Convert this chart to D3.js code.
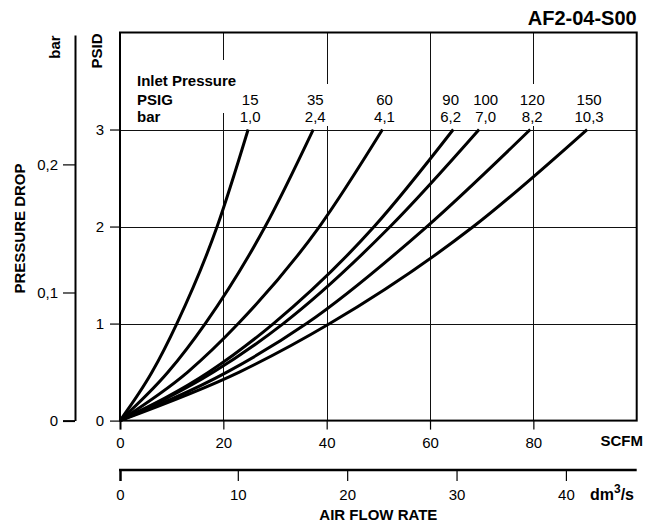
<!DOCTYPE html>
<html>
<head>
<meta charset="utf-8">
<script src="https://cdn.jsdelivr.net/npm/d3@7"></script>
<style>
  html, body { margin: 0; padding: 0; background: #fff; }
  svg { display: block; }
  text { font-family: "Liberation Sans", Arial, Helvetica, sans-serif; fill: #000; }
</style>
</head>
<body>
<svg id="chart" width="657" height="527"></svg>
<script>
// ---------- data ----------
const title = "AF2-04-S00";
const flowTicks = [0, 20, 40, 60, 80];          // SCFM
const psidTicks = [0, 1, 2, 3];                  // PSID
const barTicks = [0, 0.1, 0.2];                  // bar
const dmTicks = [0, 10, 20, 30, 40];             // dm3/s
const inletPsig = ["15", "35", "60", "90", "100", "120", "150"];
const inletBar = ["1,0", "2,4", "4,1", "6,2", "7,0", "8,2", "10,3"];
// pressure drop (PSID) levels at which flow was read
const psidLevels = [0, 0.5, 1, 2, 3];
// flow (SCFM) for each inlet pressure curve at those PSID levels
const flow15  = [0, 6.2, 11.0, 18.8, 24.8];
const flow35  = [0, 9.3, 16.5, 28.1, 37.4];
const flow60  = [0, 13.1, 22.9, 38.6, 50.8];
const flow90  = [0, 17.2, 29.7, 49.2, 64.5];
const flow100 = [0, 18.1, 31.6, 52.3, 69.5];
const flow120 = [0, 20.7, 36.1, 59.4, 79.4];
const flow150 = [0, 23.1, 40.6, 68.4, 90.4];
const curves = [flow15, flow35, flow60, flow90, flow100, flow120, flow150];
// SCFM equivalents used to calibrate the dm3/s axis as printed
const dmCalib = [0, 10, 40];
const dmCalibScfm = [0, 22.8, 86.3];

// ---------- setup ----------
const svg = d3.select("#chart");
const FONT = 15;
const x = d3.scaleLinear().domain([0, 100]).range([120, 636.7]);
const y = d3.scaleLinear().domain([0, 4]).range([420.6, 32.5]);
const yBar = d3.scaleLinear().domain([0, 0.301]).range([y(0), 35]);
const dm = d3.scaleLinear().domain(dmCalib).range(dmCalibScfm.map(x));

svg.append("rect").attr("width", 657).attr("height", 527).attr("fill", "#fff");

// ---------- grid ----------
const grid = svg.append("g").attr("stroke", "#111").attr("stroke-width", 1);
grid.selectAll("line.v").data(flowTicks.filter(d => d > 0)).join("line")
  .attr("x1", d => Math.round(x(d)) + 0.5).attr("x2", d => Math.round(x(d)) + 0.5)
  .attr("y1", y(4)).attr("y2", y(0));
grid.selectAll("line.h").data(psidTicks.filter(d => d > 0)).join("line")
  .attr("x1", x(0)).attr("x2", x(100))
  .attr("y1", d => Math.round(y(d)) + 0.5).attr("y2", d => Math.round(y(d)) + 0.5);

// ---------- legend block (text with white boxes behind) ----------
const legendG = svg.append("g");
const boxG = legendG.append("g");
const textG = legendG.append("g");
const lx = 137;
const rowY = [86, 105, 122];
const tInlet = textG.append("text").attr("x", lx).attr("y", rowY[0])
  .attr("font-size", FONT).attr("font-weight", "bold").text("Inlet Pressure");
const tPsig = textG.append("text").attr("x", lx).attr("y", rowY[1])
  .attr("font-size", FONT).attr("font-weight", "bold").text("PSIG");
textG.append("text").attr("x", lx).attr("y", rowY[2])
  .attr("font-size", FONT).attr("font-weight", "bold").text("bar");

const ends = curves.map(c => c[c.length - 1]);
const colG = textG.selectAll("g.col").data(inletPsig).join("g");
const colPsig = colG.append("text").attr("y", rowY[1])
  .attr("text-anchor", "middle").attr("font-size", FONT).text(d => d);
const colBar = colG.append("text").attr("y", rowY[2])
  .attr("text-anchor", "middle").attr("font-size", FONT).text((d, i) => inletBar[i]);

// place each column at its curve's end, pushing neighbours apart when crowded
{
  const widths = inletPsig.map((d, i) => {
    colPsig.filter((e, j) => j === i).attr("x", 0);
    colBar.filter((e, j) => j === i).attr("x", 0);
    return Math.max(colPsig.nodes()[i].getBBox().width, colBar.nodes()[i].getBBox().width);
  });
  const centers = ends.map(e => x(e) + 2);
  const gap = 12;
  for (let iter = 0; iter < 5; iter++) {
    for (let i = 1; i < centers.length; i++) {
      const ov = (centers[i - 1] + widths[i - 1] / 2 + gap) - (centers[i] - widths[i] / 2);
      if (ov > 0) { centers[i - 1] -= ov / 2; centers[i] += ov / 2; }
    }
  }
  colPsig.attr("x", (d, i) => centers[i]);
  colBar.attr("x", (d, i) => centers[i]);
}

// white boxes
{
  const b1 = tInlet.node().getBBox(), b2 = tPsig.node().getBBox();
  boxG.append("rect").attr("x", b1.x - 6).attr("y", b1.y - 12)
    .attr("width", b1.width + 12).attr("height", (b2.y + b2.height + 5) - (b1.y - 12))
    .attr("fill", "#fff");
  colG.each(function (d, i) {
    const a = colPsig.nodes()[i].getBBox(), b = colBar.nodes()[i].getBBox();
    const x0 = Math.min(a.x, b.x) - 6, x1 = Math.max(a.x + a.width, b.x + b.width) + 6;
    boxG.append("rect").attr("x", x0).attr("y", a.y - 7)
      .attr("width", x1 - x0).attr("height", (b.y + b.height + 1) - (a.y - 7))
      .attr("fill", "#fff");
  });
}

// ---------- frame ----------
svg.append("rect").attr("x", x(0)).attr("y", y(4))
  .attr("width", x(100) - x(0)).attr("height", y(0) - y(4))
  .attr("fill", "none").attr("stroke", "#000").attr("stroke-width", 2);

// ---------- curves ----------
const line = d3.line()
  .x(d => x(d[0])).y(d => y(d[1]))
  .curve(d3.curveMonotoneX);
svg.append("g").selectAll("path").data(curves).join("path")
  .attr("d", c => line(c.map((q, i) => [q, psidLevels[i]])))
  .attr("fill", "none").attr("stroke", "#000").attr("stroke-width", 3)
  .attr("stroke-linecap", "butt").attr("stroke-linejoin", "round");

// ---------- axes ----------
function styleAxis(g) {
  g.selectAll("text").attr("font-size", FONT)
    .attr("font-family", '"Liberation Sans", Arial, Helvetica, sans-serif').attr("fill", "#000");
  g.selectAll("line").attr("stroke", "#000");
}
// PSID (left)
const gPsid = svg.append("g").attr("transform", `translate(${x(0)},0)`)
  .call(d3.axisLeft(y).tickValues(psidTicks).tickFormat(d3.format("d"))
    .tickSize(10).tickPadding(6).tickSizeOuter(0));
gPsid.select(".domain").remove();
styleAxis(gPsid);
gPsid.selectAll("line").attr("stroke-width", 1.2);

// SCFM (bottom)
const gX = svg.append("g").attr("transform", `translate(0,${y(0)})`)
  .call(d3.axisBottom(x).tickValues(flowTicks).tickFormat(d3.format("d"))
    .tickSize(9).tickPadding(8).tickSizeOuter(0));
gX.select(".domain").remove();
styleAxis(gX);
gX.selectAll("line").attr("stroke-width", 1.2);
gX.selectAll(".tick").filter(d => d === 0).select("line").attr("stroke-width", 2);

// bar axis
const barX = 75;
const barFmt = d => d === 0 ? "0" : d3.format(".1f")(d).replace(".", ",");
const gBar = svg.append("g").attr("transform", `translate(${barX},0)`)
  .call(d3.axisLeft(yBar).tickValues(barTicks).tickSize(12).tickPadding(5)
    .tickSizeOuter(0).tickFormat(barFmt));
styleAxis(gBar);
gBar.select(".domain").attr("stroke", "#000").attr("stroke-width", 2);
gBar.selectAll(".tick line").attr("stroke-width", 1.2);
gBar.selectAll(".tick").filter(d => d === 0).select("line").attr("stroke-width", 2);

// dm3/s axis
const dmY = 470;
const gDm = svg.append("g").attr("transform", `translate(0,${dmY})`)
  .call(d3.axisBottom(dm).tickValues(dmTicks).tickFormat(d3.format("d"))
    .tickSize(11).tickPadding(8).tickSizeOuter(0));
gDm.select(".domain").remove();
styleAxis(gDm);
gDm.selectAll(".tick line").attr("stroke-width", 1.2);
gDm.selectAll(".tick").filter(d => d === 0).select("line").attr("stroke-width", 2.5);
svg.append("line").attr("x1", x(0) - 1).attr("x2", x(100))
  .attr("y1", dmY).attr("y2", dmY).attr("stroke", "#000").attr("stroke-width", 2.5);

// ---------- labels ----------
svg.append("text").attr("x", 636.7).attr("y", 25).attr("text-anchor", "end")
  .attr("font-size", 20).attr("font-weight", "bold").text(title);

svg.append("text").attr("transform", "translate(101.5,51) rotate(-90)")
  .attr("text-anchor", "middle").attr("font-size", FONT).attr("font-weight", "bold").text("PSID");
svg.append("text").attr("transform", "translate(60,47) rotate(-90)")
  .attr("text-anchor", "middle").attr("font-size", FONT).attr("font-weight", "bold").text("bar");
svg.append("text").attr("transform", "translate(25,228.5) rotate(-90)")
  .attr("text-anchor", "middle").attr("font-size", FONT).attr("font-weight", "bold").text("PRESSURE DROP");

svg.append("text").attr("x", 643).attr("y", 446).attr("text-anchor", "end")
  .attr("font-size", FONT).attr("font-weight", "bold").text("SCFM");

const dmLabel = svg.append("text").attr("x", 634).attr("y", 500).attr("text-anchor", "end")
  .attr("font-size", 16).attr("font-weight", "bold");
dmLabel.append("tspan").text("dm");
dmLabel.append("tspan").attr("font-size", 12).attr("dy", -7).text("3");
dmLabel.append("tspan").attr("dy", 7).text("/s");

svg.append("text").attr("x", (x(0) + x(100)) / 2).attr("y", 520).attr("text-anchor", "middle")
  .attr("font-size", FONT).attr("font-weight", "bold").text("AIR FLOW RATE");
</script>
</body>
</html>
